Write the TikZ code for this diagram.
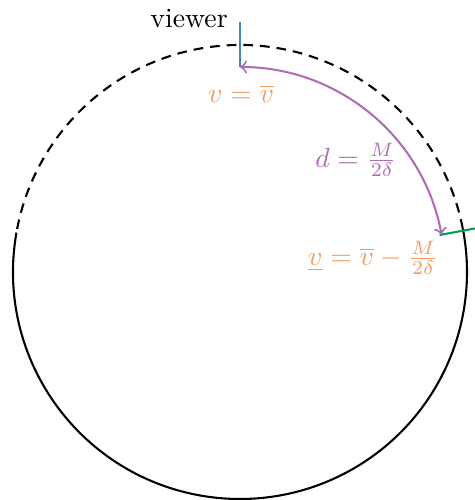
\documentclass[tikz,border=0pt]{standalone}
\usepackage{amsmath}
\usetikzlibrary{calc}
\definecolor{vblue}{RGB}{70,130,190}
\definecolor{vorange}{RGB}{245,155,95}
\definecolor{vpurple}{RGB}{175,110,180}
\definecolor{vgreen}{RGB}{0,155,80}
\tikzset{
  rim/.style={line width=0.75pt, black},
  rimdash/.style={rim, dash pattern=on 3.5pt off 2.5pt},
  lbl/.style={inner sep=1pt},
}
\begin{document}
\begin{tikzpicture}[x=0.36pt,y=0.36pt]
\useasboundingbox (0,0) rectangle (475,500);
\coordinate (C) at (240,228);
% circle: solid lower part, dashed upper part
\draw[rim] (C) ++(170:227) arc[start angle=170, end angle=371, radius=81.72pt];
\draw[rimdash] (C) ++(11:227) arc[start angle=11, end angle=170, radius=81.72pt];
% viewer marker
\coordinate (v1) at ($(C)+(90:205)$);
\coordinate (v2) at ($(C)+(90:250)$);
\draw[vblue, line width=0.5pt] (v1) -- (v2);
% other marker
\coordinate (g1) at ($(C)+(10.5:203)$);
\coordinate (g2) at ($(C)+(10.5:250)$);
\draw[vgreen, line width=0.75pt] (g1) -- (g2);
% distance arc
\draw[vpurple, line width=0.75pt, <->] (v1) arc[start angle=90, end angle=10.5, radius=73.8pt];
% labels
\node[lbl] (viewer) at (189,481) {viewer};
\node[lbl, text=vorange] (top) at (241,406) {$v=\overline{v}$};
\node[lbl, text=vpurple] (dist) at (356,340) {$d=\frac{M}{2\delta}$};
\node[lbl, text=vorange] (bot) at (373,242) {$\underline{v}=\overline{v}-\frac{M}{2\delta}$};
\end{tikzpicture}
\end{document}
